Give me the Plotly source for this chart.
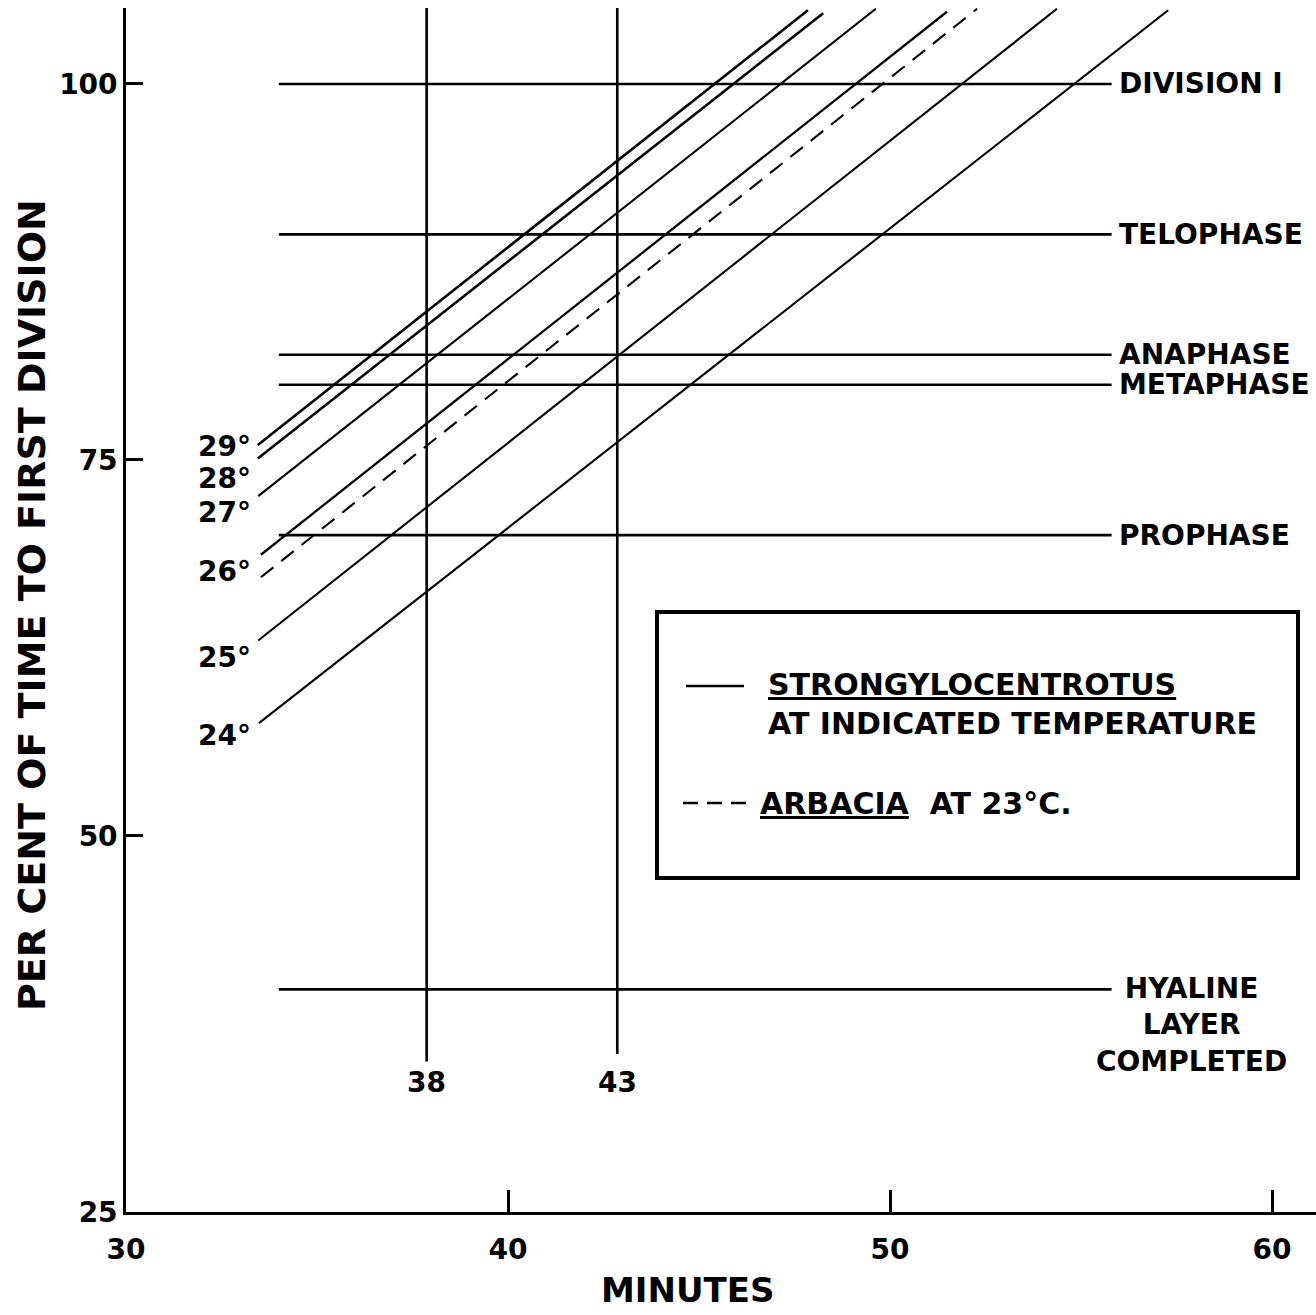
import plotly.graph_objects as go

# ---------------- data ----------------
temp_labels = ["29°", "28°", "27°", "26°", "25°", "24°"]
temp_x_start = [33.45, 33.45, 33.46, 33.53, 33.46, 33.48]
temp_y_start = [76.0, 75.1, 72.6, 68.7, 63.0, 57.5]
temp_x_end = [47.85, 48.25, 49.63, 51.49, 54.37, 57.28]
temp_y_end = [104.9, 104.7, 105.0, 104.8, 105.0, 104.9]
temp_label_y = [75.9, 73.8, 71.5, 67.6, 61.9, 56.7]
temp_label_x = 33.32

arbacia_x = [33.53, 52.28]
arbacia_y = [67.2, 105.0]

phase_names = ["DIVISION I", "TELOPHASE", "ANAPHASE", "METAPHASE", "PROPHASE"]
phase_y = [100, 90, 82, 80, 70]
hyaline_name = "HYALINE<br>LAYER<br>COMPLETED"
hyaline_y = 39.8
phase_x_start = 34.0
phase_x_end = 55.8

ref_labels = ["38", "43"]
ref_x = [37.87, 42.86]
ref_y_bottom = [35.0, 35.5]
ref_label_y = 33.6

x_ticks = [30, 40, 50, 60]
y_ticks = [25, 50, 75, 100]
x_range = [30, 61.15]
y_range = [25, 105.05]

# ---------------- figure ----------------
FONT = "DejaVu Sans"
W, H = 1316, 1315
ML, MR, MT, MB = 126, 0, 8, 103
PW, PH = W - ML - MR, H - MT - MB


def px_x(p):
    return (p - ML) / PW


def px_y(p):
    return (H - MB - p) / PH


fig = go.Figure()

line_w = [2.6, 2.6, 2.1, 2.3, 2.1, 2.1]
for i, lab in enumerate(temp_labels):
    fig.add_trace(go.Scatter(
        x=[temp_x_start[i], temp_x_end[i]], y=[temp_y_start[i], temp_y_end[i]],
        mode="lines", line=dict(color="black", width=line_w[i]),
        name="Strongylocentrotus " + lab, hoverinfo="skip"))

fig.add_trace(go.Scatter(
    x=arbacia_x, y=arbacia_y, mode="lines",
    line=dict(color="black", width=2.1, dash="16px,10px"),
    name="Arbacia 23°C", hoverinfo="skip"))

for name, yv in zip(phase_names + ["HYALINE"], phase_y + [hyaline_y]):
    fig.add_trace(go.Scatter(
        x=[phase_x_start, phase_x_end], y=[yv, yv], mode="lines",
        line=dict(color="black", width=2.6), name=name, hoverinfo="skip"))

for lab, xv, yb in zip(ref_labels, ref_x, ref_y_bottom):
    fig.add_trace(go.Scatter(
        x=[xv, xv], y=[yb, y_range[1]], mode="lines",
        line=dict(color="black", width=2.6), name=lab + " min", hoverinfo="skip"))

annotations = []
for lab, yv in zip(temp_labels, temp_label_y):
    annotations.append(dict(x=temp_label_x, y=yv, xref="x", yref="y", text=lab,
                            showarrow=False, xanchor="right", yanchor="middle",
                            font=dict(size=28)))
for name, yv in zip(phase_names, phase_y):
    annotations.append(dict(x=phase_x_end, y=yv, xref="x", yref="y", text=name,
                            showarrow=False, xanchor="left", yanchor="middle",
                            xshift=5, font=dict(size=28)))
annotations.append(dict(x=57.9, y=37.45, xref="x", yref="y", text=hyaline_name,
                        showarrow=False, xanchor="center", yanchor="middle",
                        align="center", font=dict(size=28)))
for lab, xv in zip(ref_labels, ref_x):
    annotations.append(dict(x=xv, y=ref_label_y, xref="x", yref="y", text=lab,
                            showarrow=False, xanchor="center", yanchor="middle",
                            font=dict(size=28)))

# axis titles
annotations.append(dict(x=px_x(687), y=px_y(1290), xref="paper", yref="paper",
                        text="MINUTES", showarrow=False, xanchor="center",
                        yanchor="middle", font=dict(size=34)))
annotations.append(dict(x=px_x(32), y=px_y(605), xref="paper", yref="paper",
                        text="PER CENT OF TIME TO FIRST DIVISION", textangle=-90,
                        showarrow=False, xanchor="center", yanchor="middle",
                        font=dict(size=38)))

# legend box contents
annotations.append(dict(x=px_x(766), y=px_y(704), xref="paper", yref="paper",
                        text="<u>STRONGYLOCENTROTUS</u><br>AT INDICATED TEMPERATURE",
                        showarrow=False, xanchor="left", yanchor="middle",
                        align="left", font=dict(size=30)))
annotations.append(dict(x=px_x(758), y=px_y(803), xref="paper", yref="paper",
                        text="<u>ARBACIA</u>  AT 23°C.",
                        showarrow=False, xanchor="left", yanchor="middle",
                        align="left", font=dict(size=30)))

shapes = [
    dict(type="rect", xref="paper", yref="paper",
         x0=px_x(657), x1=px_x(1298), y0=px_y(878), y1=px_y(612),
         line=dict(color="black", width=4), fillcolor="white", layer="above"),
    dict(type="line", xref="paper", yref="paper",
         x0=px_x(686), x1=px_x(744), y0=px_y(686), y1=px_y(686),
         line=dict(color="black", width=2.6)),
    dict(type="line", xref="paper", yref="paper",
         x0=px_x(683), x1=px_x(748), y0=px_y(803), y1=px_y(803),
         line=dict(color="black", width=2.6, dash="15px,9px")),
]

fig.update_layout(
    width=W, height=H,
    margin=dict(l=ML, r=MR, t=MT, b=MB, autoexpand=False),
    paper_bgcolor="white", plot_bgcolor="white",
    showlegend=False,
    font=dict(family=FONT, color="black", weight="bold"),
    annotations=annotations, shapes=shapes,
    xaxis=dict(range=x_range, tickvals=x_ticks, ticktext=[str(v) for v in x_ticks],
               ticks="inside", ticklen=22, tickwidth=2.5, tickcolor="black",
               showline=True, linewidth=2.6, linecolor="black",
               showgrid=False, zeroline=False, tickfont=dict(size=28),
               ticklabelstandoff=11, fixedrange=True),
    yaxis=dict(range=y_range, tickvals=y_ticks, ticktext=[str(v) for v in y_ticks],
               ticks="inside", ticklen=17, tickwidth=2.5, tickcolor="black",
               showline=True, linewidth=2.6, linecolor="black",
               showgrid=False, zeroline=False, tickfont=dict(size=28),
               fixedrange=True),
)

fig.write_html("out.html")
